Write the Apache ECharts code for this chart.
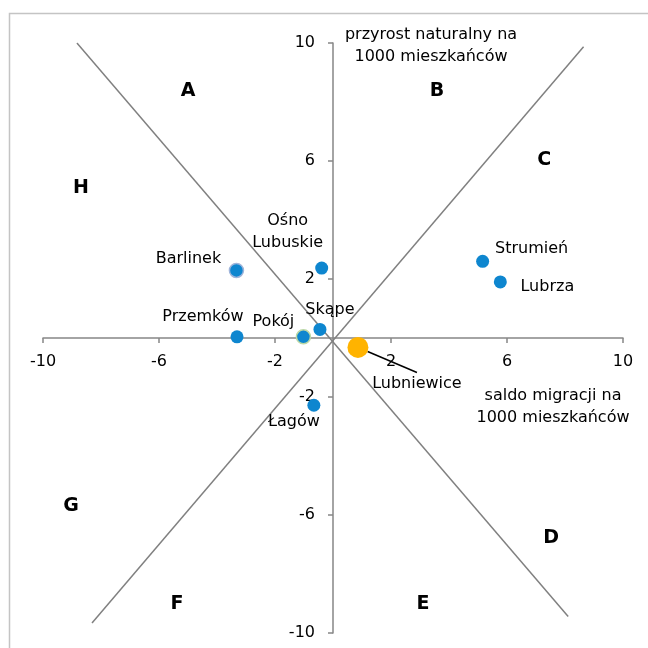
<!DOCTYPE html>
<html>
<head>
<meta charset="utf-8">
<script src="https://cdn.jsdelivr.net/npm/echarts@6/dist/echarts.min.js"></script>
<style>
html,body{margin:0;padding:0;background:#fff;}
#chart{width:648px;height:648px;}
</style>
</head>
<body>
<div id="chart"></div>
<script>
// ---- data ----
const towns = ['Barlinek', 'Ośno\nLubuskie', 'Przemków', 'Pokój', 'Skąpe', 'Lubniewice', 'Łagów', 'Strumień', 'Lubrza'];
const saldoMigracji = [-3.33, -0.39, -3.31, -1.02, -0.45, 0.86, -0.66, 5.16, 5.77];
const przyrostNaturalny = [2.29, 2.37, 0.04, 0.04, 0.29, -0.32, -2.28, 2.60, 1.90];

const xTicks = [-10, -6, -2, 2, 6, 10];
const yTicks = [-10, -6, -2, 2, 6, 10];

// dividing lines (two diagonals)
const diagAx = [-8.83, 8.11];
const diagAy = [10.0, -9.44];
const diagBx = [-8.31, 8.64];
const diagBy = [-9.66, 9.87];

// sector letters
const sectorNames = ['A', 'B', 'C', 'D', 'E', 'F', 'G', 'H'];
const sectorX = [-5.0, 3.59, 7.28, 7.52, 3.10, -5.38, -9.03, -8.69];
const sectorY = [8.37, 8.37, 6.03, -6.79, -9.03, -9.03, -5.71, 5.08];

// ---- layout & styles (kept separate from data) ----
const W = 648, H = 648;
const GRID = { left: 43, right: 25, top: 43, bottom: 15 };
const gridW = W - GRID.left - GRID.right;
const gridH = H - GRID.top - GRID.bottom;
const FONT = 'DejaVu Sans';
const BLUE = '#0E86CF';
const labelOffsets = {
  'Barlinek': [-48, -12],
  'Ośno\nLubuskie': [-34, -36],
  'Przemków': [-34, -20],
  'Pokój': [-30, -15],
  'Skąpe': [10, -20],
  'Lubniewice': [59, 36],
  'Łagów': [-20, 17],
  'Strumień': [49, -12],
  'Lubrza': [47, 5]
};
const specialStyle = {
  'Barlinek': { itemStyle: { color: BLUE, borderColor: '#9FB4DA', borderWidth: 1.5 }, symbolSize: 14 },
  'Pokój': { itemStyle: { color: BLUE, borderColor: '#BCD8A6', borderWidth: 1.5 }, symbolSize: 14 },
  'Lubniewice': { itemStyle: { color: '#FFB300' }, symbolSize: 21 }
};

const pointData = towns.map((t, i) => {
  const s = specialStyle[t] || {};
  const item = {
    name: t,
    value: [saldoMigracji[i], przyrostNaturalny[i]],
    symbolSize: s.symbolSize || 13,
    itemStyle: Object.assign({ opacity: 1 }, s.itemStyle || { color: BLUE })
  };
  if (t === 'Lubniewice') {
    item.label = { padding: [0, 80] };
    item.labelLine = { show: true, lineStyle: { color: '#000', width: 1.5, opacity: 1 } };
  }
  return item;
});

const sectorData = sectorNames.map((n, i) => ({ name: n, value: [sectorX[i], sectorY[i]] }));

const chart = echarts.init(document.getElementById('chart'), null, { renderer: 'canvas' });
const axisCommon = {
  type: 'value',
  min: -10, max: 10, interval: 4,
  axisLine: { onZero: false, lineStyle: { color: '#868686', width: 1.5 } },
  axisTick: { show: true, length: 5, lineStyle: { color: '#868686', width: 1.5 } },
  splitLine: { show: false },
  axisLabel: { color: '#000', fontSize: 16, fontFamily: FONT }
};

chart.setOption({
  animation: false,
  backgroundColor: '#fff',
  grid: Object.assign({ containLabel: false }, GRID),
  xAxis: Object.assign({}, axisCommon, {
    position: 'bottom',
    offset: -gridH / 2,
    axisLabel: Object.assign({}, axisCommon.axisLabel, {
      margin: 16,
      formatter: v => (xTicks.indexOf(v) >= 0 ? String(v) : '')
    })
  }),
  yAxis: Object.assign({}, axisCommon, {
    position: 'left',
    offset: -gridW / 2,
    axisLabel: Object.assign({}, axisCommon.axisLabel, {
      margin: 18,
      formatter: v => (yTicks.indexOf(v) >= 0 ? String(v) : '')
    })
  }),
  graphic: [
    { type: 'rect', shape: { x: 9.5, y: 13.5, width: 700, height: 700 }, style: { fill: 'none', stroke: '#C4C4C4', lineWidth: 1.5 }, silent: true, z: 0 },
    { type: 'text', x: 431, y: 46, style: { text: 'przyrost naturalny na\n1000 mieszkańców', font: '16px "DejaVu Sans"', fill: '#000', align: 'center', verticalAlign: 'middle', lineHeight: 22 }, z: 10 },
    { type: 'text', x: 553, y: 407, style: { text: 'saldo migracji na\n1000 mieszkańców', font: '16px "DejaVu Sans"', fill: '#000', align: 'center', verticalAlign: 'middle', lineHeight: 22 }, z: 10 }
  ],
  series: [
    {
      type: 'line', data: diagAx.map((x, i) => [x, diagAy[i]]),
      symbol: 'none', lineStyle: { color: '#808080', width: 1.5 }, z: 1, silent: true
    },
    {
      type: 'line', data: diagBx.map((x, i) => [x, diagBy[i]]),
      symbol: 'none', lineStyle: { color: '#808080', width: 1.5 }, z: 1, silent: true
    },
    {
      type: 'scatter', data: sectorData, symbolSize: 0, z: 3, silent: true,
      itemStyle: { opacity: 1 },
      label: { show: true, position: 'inside', formatter: '{b}', color: '#000', fontSize: 19, fontWeight: 'bold', fontFamily: FONT, textBorderWidth: 0 }
    },
    {
      type: 'scatter', data: pointData, z: 5,
      itemStyle: { opacity: 1 },
      label: { show: true, position: 'inside', formatter: '{b}', color: '#000', fontSize: 16, fontFamily: FONT, lineHeight: 22, textBorderWidth: 0 },
      labelLayout: function (params) {
        const o = labelOffsets[towns[params.dataIndex]];
        return { dx: o[0], dy: o[1] };
      }
    }
  ]
});
</script>
</body>
</html>
